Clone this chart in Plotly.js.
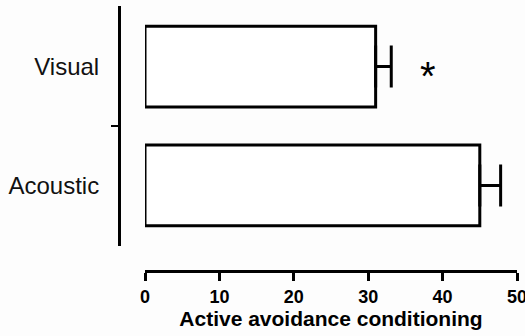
<!DOCTYPE html>
<html>
<head>
<meta charset="utf-8">
<script src="https://cdn.plot.ly/plotly-3.0.1.min.js"></script>
<style>html,body{margin:0;padding:0;background:#fdfdfd;}#chart{width:525px;height:336px;}</style>
</head>
<body>
<div id="chart"></div>
<script>
const categories = ['Acoustic', 'Visual'];
const values = [45.0, 31.0];
const errors = [2.8, 2.1];
const xTickVals = [0, 10, 20, 30, 40, 50];
const xTitle = 'Active avoidance conditioning';
const sigLabel = '*';

const W = 525, mL = 100, mR = 8;
const plotW = W - mL - mR;

const trace = {
  type: 'bar',
  orientation: 'h',
  y: categories,
  x: values,
  width: 0.68,
  marker: {color: '#ffffff', line: {color: '#000000', width: 3}},
  error_x: {type: 'data', array: errors, arrayminus: errors.map(() => 0), symmetric: false,
            color: '#000000', thickness: 3, width: 21},
  cliponaxis: false,
  hoverinfo: 'none'
};

// empty helper trace so the overlay axis (category boundary tick) is drawn
const helper = {type: 'scatter', mode: 'markers', x: [], y: [], yaxis: 'y2', hoverinfo: 'none'};

const layout = {
  width: 525, height: 336,
  margin: {l: mL, r: mR, t: 6, b: 65},
  paper_bgcolor: '#fdfdfd',
  plot_bgcolor: 'rgba(0,0,0,0)',
  showlegend: false,
  font: {family: 'Liberation Sans, Arial, sans-serif', color: '#000000'},
  xaxis: {
    domain: [45 / plotW, 1],
    range: [0, 50],
    anchor: 'free', position: 0,
    tickmode: 'array', tickvals: xTickVals,
    ticks: 'outside', ticklen: 8, tickwidth: 3, tickcolor: '#000',
    ticklabeloverflow: 'allow',
    showline: true, linewidth: 3, linecolor: '#000',
    showgrid: false, zeroline: false,
    tickfont: {size: 18, weight: 'bold', color: '#000'},
    title: {text: xTitle, font: {size: 21, weight: 'bold', color: '#000'}, standoff: 4}
  },
  yaxis: {
    type: 'category',
    categoryorder: 'array', categoryarray: categories,
    range: [-0.51, 1.51],
    domain: [25 / 265, 1],
    anchor: 'free', position: 19 / plotW,
    showline: true, linewidth: 3, linecolor: '#000',
    ticks: '', showgrid: false, zeroline: false,
    ticklabelstandoff: 14,
    tickfont: {size: 24, color: '#111'}
  },
  yaxis2: {
    overlaying: 'y',
    range: [-0.51, 1.51],
    domain: [25 / 265, 1],
    anchor: 'free', position: 19 / plotW,
    tickmode: 'array', tickvals: [0.5],
    ticks: 'outside', ticklen: 8, tickwidth: 2.5, tickcolor: '#000',
    showticklabels: false, showline: false, showgrid: false, zeroline: false
  },
  annotations: [{
    x: 38, y: 'Visual', xref: 'x', yref: 'y',
    text: sigLabel, showarrow: false,
    font: {size: 40, family: 'Liberation Sans, Arial, sans-serif', color: '#000'},
    yshift: -9
  }]
};

Plotly.newPlot('chart', [trace, helper], layout, {displayModeBar: false, staticPlot: true});
</script>
</body>
</html>
